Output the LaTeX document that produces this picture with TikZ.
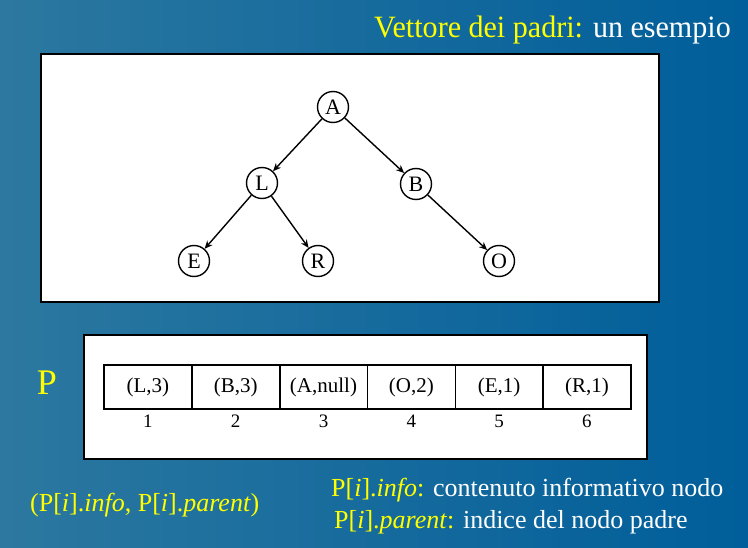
\documentclass[tikz,border=0pt]{standalone}
\usepackage{fontspec}
\setmainfont{Liberation Serif}
\usetikzlibrary{arrows.meta}
\definecolor{bgleft}{RGB}{44,120,160}
\definecolor{bgright}{RGB}{0,94,154}
\definecolor{ttl}{RGB}{255,255,0}
\tikzset{
  panel/.style={draw=black, line width=2pt, fill=white},
  treenode/.style={circle, draw=black, line width=1.4pt, fill=white, minimum size=31pt, inner sep=0pt, font=\fontsize{22}{22}\selectfont},
  edge/.style={line width=1.4pt, -{Stealth[length=8pt,width=7pt]}},
  cell/.style={draw=black, line width=0.6pt, minimum width=87.2pt, minimum height=43pt, inner sep=0pt, anchor=west, font=\fontsize{21}{21}\selectfont},
  idx/.style={font=\fontsize{19}{19}\selectfont},
  yel/.style={text=ttl}
}
\begin{document}
\begin{tikzpicture}[x=1pt,y=-1pt]
  \useasboundingbox (0,0) rectangle (748,548);
  % blue backdrop
  \shade[left color=bgleft, right color=bgright] (0,0) rectangle (748,548);

  % title
  \node[anchor=base east, inner sep=0pt, xscale=0.97, font=\fontsize{31}{31}\selectfont] (title) at (731,38)
    {\textcolor{ttl}{Vettore dei padri:} \textcolor{white}{un esempio}};

  % tree panel
  \draw[panel] (41,54) rectangle (659,302);
  \node[treenode] (A) at (333,107) {A};
  \node[treenode] (L) at (262,183) {L};
  \node[treenode] (B) at (416,184) {B};
  \node[treenode] (E) at (194,261) {E};
  \node[treenode] (R) at (318,261) {R};
  \node[treenode] (O) at (499,261) {O};
  \draw[edge] (A) -- (L);
  \draw[edge] (A) -- (B);
  \draw[edge] (L) -- (E);
  \draw[edge] (L) -- (R);
  \draw[edge] (B) -- (O);

  % array panel
  \draw[panel] (84,335) rectangle (647,459);
  \node[cell] (c1) at (104,387) {(L,3)};
  \node[cell] (c2) at (c1.east) {(B,3)};
  \node[cell] (c3) at (c2.east) {(A,null)};
  \node[cell] (c4) at (c3.east) {(O,2)};
  \node[cell] (c5) at (c4.east) {(E,1)};
  \node[cell] (c6) at (c5.east) {(R,1)};
  \draw[line width=2pt] (c1.north west) rectangle (c6.south east);
  \foreach \i in {1,...,6} {
    \node[idx, anchor=base] (n\i) at ([yshift=-19pt]c\i.south) {\i};
  }
  \node[yel, font=\fontsize{36}{36}\selectfont] (P) at (47,383) {P};

  % legend
  \node[yel, anchor=base west, inner sep=0pt, font=\fontsize{26}{26}\selectfont] (pair) at (30,511)
    {(P[\textit{i}].\textit{info}, P[\textit{i}].\textit{parent})};
  \node[anchor=base west, inner sep=0pt, font=\fontsize{26}{26}\selectfont] (info) at (331,496)
    {\textcolor{ttl}{P[\textit{i}].\textit{info}:} \textcolor{white}{contenuto informativo nodo}};
  \node[anchor=base west, inner sep=0pt, font=\fontsize{26}{26}\selectfont] (par) at (334,528)
    {\textcolor{ttl}{P[\textit{i}].\textit{parent}:} \textcolor{white}{indice del nodo padre}};
\end{tikzpicture}
\end{document}
